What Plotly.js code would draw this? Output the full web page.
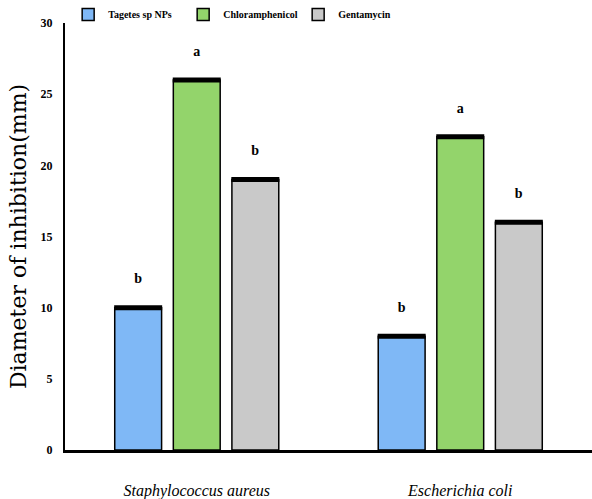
<!DOCTYPE html>
<html>
<head>
<meta charset="utf-8">
<script src="https://cdn.plot.ly/plotly-3.0.1.min.js"></script>
<style>
  html, body { margin: 0; padding: 0; background: #ffffff; }
  #chart { width: 592px; height: 499px; }
</style>
</head>
<body>
<div id="chart"></div>
<script>
// Bacterial strains tested
const strains = ['<i>Staphylococcus aureus</i>', '<i>Escherichia coli</i>'];

// Zone of inhibition (mm) for each treatment
const tagetesNPs = [10, 8];
const chloramphenicol = [26, 22];
const gentamycin = [19, 16];

// Significance letters above each bar
const tagetesLetters = ['b', 'b'];
const chloramphenicolLetters = ['a', 'a'];
const gentamycinLetters = ['b', 'b'];

const yTicks = [0, 5, 10, 15, 20, 25, 30];

const letterFont = { family: 'Liberation Serif, serif', size: 14, color: '#000000', weight: 'bold' };

function barTrace(name, values, letters, color) {
  return {
    type: 'bar',
    name: name,
    x: strains,
    y: values,
    text: letters.map(l => l + '<br> '),
    textposition: 'outside',
    textfont: letterFont,
    cliponaxis: false,
    hoverinfo: 'skip',
    marker: { color: color, line: { color: '#000000', width: 1.5 } },
    // flat zero-length error bar draws the heavy black cap on each bar top
    error_y: {
      type: 'data',
      array: values.map(() => 0),
      visible: true,
      color: '#000000',
      thickness: 5,
      width: 24
    }
  };
}

const data = [
  barTrace('Tagetes sp NPs', tagetesNPs, tagetesLetters, '#7fb8f6'),
  barTrace('Chloramphenicol', chloramphenicol, chloramphenicolLetters, '#93d46b'),
  barTrace('Gentamycin', gentamycin, gentamycinLetters, '#c9c9c9')
];

const layout = {
  width: 592,
  height: 499,
  margin: { l: 65, r: 0, t: 22, b: 49 },
  paper_bgcolor: '#ffffff',
  plot_bgcolor: '#ffffff',
  barmode: 'group',
  bargap: 0.333,
  bargroupgap: 0.2,
  showlegend: true,
  legend: {
    orientation: 'h',
    xref: 'paper',
    yref: 'paper',
    x: 0.006,
    xanchor: 'left',
    y: 1.02,
    yanchor: 'middle',
    font: { family: 'Liberation Serif, serif', size: 10, color: '#000000', weight: 'bold' },
    itemwidth: 30,
    entrywidth: 70,
    entrywidthmode: 'pixels',
    tracegroupgap: 0,
    bgcolor: 'rgba(0,0,0,0)'
  },
  xaxis: {
    type: 'category',
    range: [-0.5, 1.5],
    showline: true,
    linecolor: '#000000',
    linewidth: 2.5,
    ticks: '',
    showgrid: false,
    zeroline: false,
    ticklabelstandoff: 24,
    tickfont: { family: 'Liberation Serif, serif', size: 16, color: '#000000' },
    fixedrange: true
  },
  yaxis: {
    range: [0, 30],
    tickvals: yTicks,
    ticktext: yTicks.map(String),
    showline: true,
    linecolor: '#000000',
    linewidth: 2,
    ticks: '',
    showgrid: false,
    zeroline: false,
    ticklabelstandoff: 8,
    tickfont: { family: 'Liberation Serif, serif', size: 12, color: '#000000', weight: 'bold' },
    title: {
      text: 'Diameter of inhibition(mm)',
      font: { family: 'DejaVu Serif, serif', size: 22, color: '#000000' },
      standoff: 8
    },
    fixedrange: true
  }
};

Plotly.newPlot('chart', data, layout, { staticPlot: true, displayModeBar: false });
</script>
</body>
</html>
